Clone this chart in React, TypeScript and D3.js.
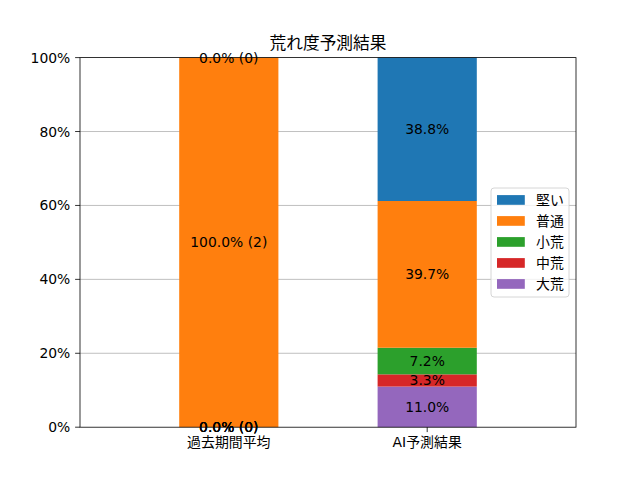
import React from "react";
import * as d3 from "d3";

const categories = ["過去期間平均", "AI予測結果"];
const seriesNames = ["大荒", "中荒", "小荒", "普通", "堅い"];
const seriesColors = ["#9467bd", "#d62728", "#2ca02c", "#ff7f0e", "#1f77b4"];
const pastValues = [0.0, 0.0, 0.0, 100.0, 0.0];
const pastCounts = [0, 0, 0, 2, 0];
const aiValues = [11.0, 3.3, 7.2, 39.7, 38.8];
const yTicks = [0, 20, 40, 60, 80, 100];
const legendOrder = ["堅い", "普通", "小荒", "中荒", "大荒"];

const FONT = "'DejaVu Sans', 'Noto Sans CJK JP', sans-serif";

export default function App() {
  const W = 640, H = 480;
  const left = 80, right = 576, top = 57.6, bottom = 427.2;
  const x = d3.scaleLinear().domain([-0.75, 1.75]).range([left, right]);
  const y = d3.scaleLinear().domain([0, 100]).range([bottom, top]);
  const barW = x(0.5) - x(0);
  const fs = 13.9;

  const rows = [
    { values: pastValues, labels: pastValues.map((v, i) => `${v.toFixed(1)}% (${pastCounts[i]})`) },
    { values: aiValues, labels: aiValues.map((v) => `${v.toFixed(1)}%`) },
  ];

  const bars: React.ReactNode[] = [];
  const texts: React.ReactNode[] = [];
  rows.forEach((row, ci) => {
    let cum = 0;
    row.values.forEach((v, si) => {
      const y0 = cum, y1 = cum + v;
      cum = y1;
      if (v > 0) {
        bars.push(
          <rect key={`b${ci}-${si}`} x={x(ci) - barW / 2} y={y(y1)} width={barW} height={y(y0) - y(y1)} fill={seriesColors[si]} />
        );
      }
      texts.push(
        <text key={`t${ci}-${si}`} x={x(ci)} y={y((y0 + y1) / 2)} textAnchor="middle" dominantBaseline="central" fontSize={fs} fill="#000">
          {row.labels[si]}
        </text>
      );
    });
  });

  const lgX = 491, lgY = 188, lgW = 78, lgH = 109;
  const rowH = 21;

  return (
    <svg width={W} height={H} style={{ position: "absolute", left: 0, top: 0, fontFamily: FONT }}>
      <rect width={W} height={H} fill="#fff" />
      {yTicks.filter((t) => t > 0 && t < 100).map((t) => (
        <line key={`g${t}`} x1={left} x2={right} y1={y(t)} y2={y(t)} stroke="#b0b0b0" strokeWidth={0.8} />
      ))}
      {bars}
      {texts}
      <rect x={left} y={top} width={right - left} height={bottom - top} fill="none" stroke="#000" strokeWidth={0.8} />
      {yTicks.map((t) => (
        <g key={`yt${t}`}>
          <line x1={left - 4.9} x2={left} y1={y(t)} y2={y(t)} stroke="#000" strokeWidth={0.8} />
          <text x={left - 9.7} y={y(t)} textAnchor="end" dominantBaseline="central" fontSize={fs}>{`${t}%`}</text>
        </g>
      ))}
      {categories.map((c, i) => (
        <g key={`xt${i}`}>
          <line x1={x(i)} x2={x(i)} y1={bottom} y2={bottom + 4.9} stroke="#000" strokeWidth={0.8} />
          <text x={x(i)} y={bottom + 9.7} textAnchor="middle" dominantBaseline="hanging" fontSize={fs}>{c}</text>
        </g>
      ))}
      <text x={(left + right) / 2} y={49.3} textAnchor="middle" fontSize={16.7}>荒れ度予測結果</text>
      <rect x={lgX} y={lgY} width={lgW} height={lgH} rx={3} fill="#fff" fillOpacity={0.8} stroke="#cccccc" strokeWidth={0.8} />
      {legendOrder.map((name, i) => {
        const si = seriesNames.indexOf(name);
        const cy = lgY + 12 + i * rowH;
        return (
          <g key={`lg${name}`}>
            <rect x={lgX + 6} y={cy - 4.9} width={27.8} height={9.7} fill={seriesColors[si]} />
            <text x={lgX + 45} y={cy} dominantBaseline="central" fontSize={fs}>{name}</text>
          </g>
        );
      })}
    </svg>
  );
}
